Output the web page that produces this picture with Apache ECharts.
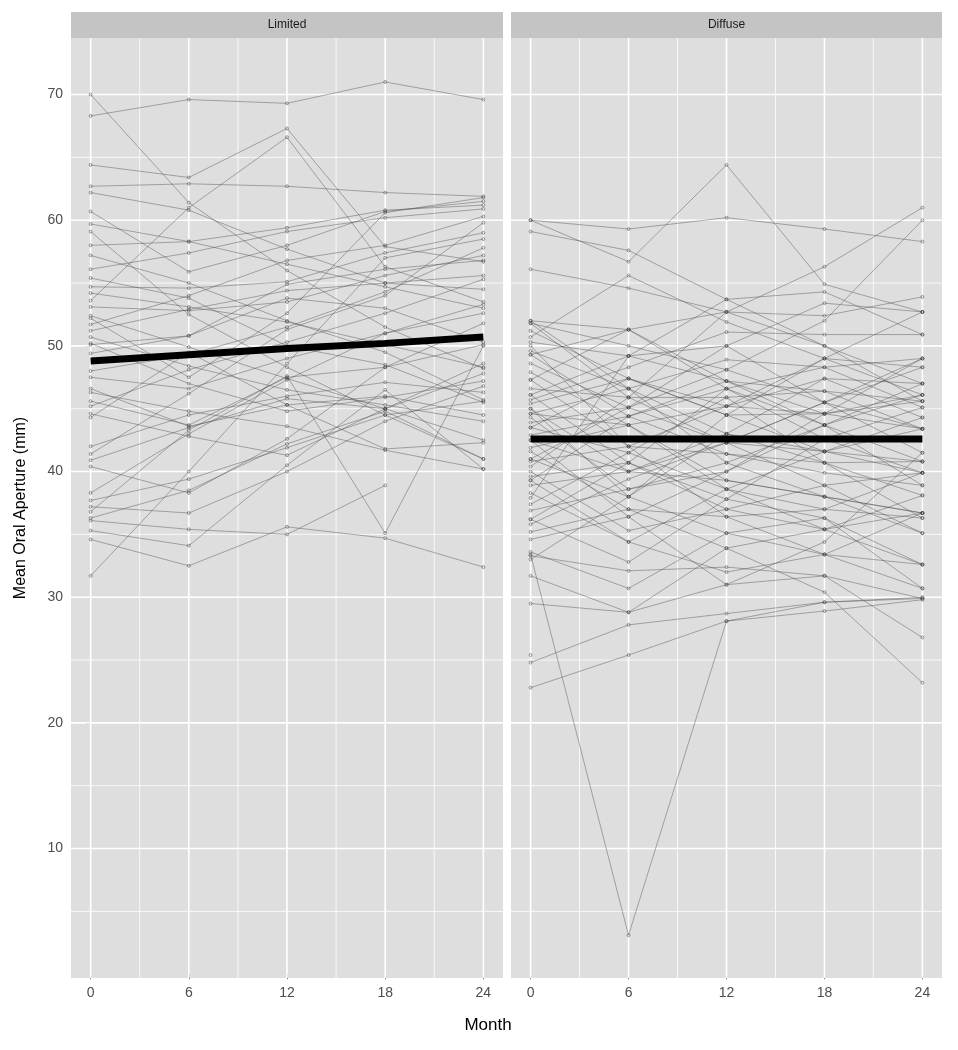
<!DOCTYPE html>
<html>
<head>
<meta charset="utf-8">
<script src="https://cdn.jsdelivr.net/npm/echarts@6/dist/echarts.min.js"></script>
<style>
html,body{margin:0;padding:0;background:#fff;}
#chart{width:958px;height:1050px;}
</style>
</head>
<body>
<div id="chart"></div>
<script>
// ---- data ----
const months = [0, 6, 12, 18, 24];
const panels = ['Limited', 'Diffuse'];
const xTicks = [0, 6, 12, 18, 24];
const xMinorGrid = [3, 9, 15, 21];
const yTicks = [10, 20, 30, 40, 50, 60, 70];
const yMinorGrid = [5, 15, 25, 35, 45, 55, 65];
const xRange = [-1.2, 25.2];
const yRange = [-0.3, 74.5];

// Mean Oral Aperture (mm) per subject at months 0,6,12,18,24
const limited = [
  [68.3, 69.6, 69.3, 71.0, 69.6],
  [70.0, 61.4, 56.0, 51.5, 48.2],
  [64.4, 63.4, 67.3, 57.9, 56.7],
  [62.7, 62.9, 62.7, 62.2, 61.9],
  [62.2, 60.8, 57.7, 55.0, 54.5],
  [60.7, 55.9, 58.0, 60.7, 61.5],
  [59.7, 58.3, 56.5, 54.7, 53.0],
  [59.1, 52.5, 48.3, 44.5, 41.0],
  [58.0, 58.3, 59.4, 60.8, 61.2],
  [56.1, 57.4, 59.1, 60.2, 60.9],
  [54.7, 54.6, 55.1, 57.4, 59.0],
  [54.2, 53.1, 51.9, 50.1, 48.3],
  [53.6, 61.0, 66.6, 56.3, 53.5],
  [53.1, 52.8, 53.5, 55.6, 57.2],
  [52.4, 49.9, 47.4, 45.0, 42.5],
  [51.7, 54.0, 56.8, 58.0, 60.3],
  [51.2, 52.9, 54.4, 55.0, 55.6],
  [50.7, 48.4, 46.5, 45.3, 44.0],
  [50.1, 50.8, 54.9, 56.1, 56.8],
  [48.0, 49.3, 51.5, 54.3, 57.8],
  [47.5, 46.6, 49.0, 51.0, 52.6],
  [46.6, 43.6, 45.3, 46.0, 44.5],
  [45.6, 43.7, 47.5, 48.3, 50.1],
  [45.2, 48.1, 50.3, 52.6, 55.3],
  [44.6, 42.8, 41.3, 45.0, 47.8],
  [44.3, 49.5, 45.3, 41.8, 42.3],
  [42.0, 44.5, 46.0, 47.1, 46.3],
  [41.4, 46.2, 51.3, 54.0, 59.8],
  [40.9, 43.5, 45.8, 45.0, 48.6],
  [40.4, 38.3, 42.6, 48.3, 51.8],
  [38.3, 43.0, 47.3, 51.0, 53.3],
  [37.7, 39.4, 41.9, 44.5, 45.6],
  [37.2, 36.7, 40.0, 44.0, 46.8],
  [36.8, 43.3, 47.6, 35.1, 50.0],
  [36.3, 38.5, 42.2, 44.8, 41.0],
  [36.1, 35.4, 35.0, 38.9, null],
  [35.3, 34.1, 40.5, 46.5, 40.2],
  [34.6, 32.5, 35.6, 34.7, 32.4],
  [31.7, 40.0, 48.6, 57.0, 58.5],
  [49.4, 50.8, 53.8, 53.0, 50.3],
  [55.4, 53.8, 50.0, 48.5, 45.5],
  [50.2, 47.0, 44.8, 45.9, 47.2],
  [57.2, 55.0, 52.0, 49.5, 45.7],
  [52.2, 47.5, 52.6, 60.6, 61.8],
  [46.3, 44.8, 43.6, 41.7, 40.2]
];

const diffuse = [
  [60.0, 59.3, 60.2, 59.3, 58.3],
  [60.0, 56.7, 64.4, 54.9, 52.7],
  [59.1, 57.6, 53.7, 50.0, 47.0],
  [56.1, 54.6, 52.7, 52.4, 53.9],
  [52.0, 51.3, 52.7, 56.3, 61.0],
  [51.8, 50.0, 48.1, 52.0, 60.0],
  [51.2, 47.4, 45.2, 44.6, 43.4],
  [50.7, 55.6, 51.9, 49.0, 46.1],
  [50.3, 49.2, 50.0, 53.4, 52.7],
  [50.0, 42.0, 36.4, 33.4, 30.7],
  [49.6, 46.6, 43.0, 40.7, 38.1],
  [49.3, 44.4, 46.6, 48.3, 49.0],
  [48.6, 45.1, 42.3, 45.5, 48.3],
  [47.9, 43.7, 39.3, 38.0, 36.7],
  [47.3, 51.3, 47.2, 43.7, 40.8],
  [46.6, 45.9, 45.9, 46.4, 45.6],
  [46.1, 40.7, 37.8, 36.3, 32.6],
  [45.7, 48.3, 51.1, 50.9, 50.9],
  [45.4, 47.4, 44.5, 41.6, 39.9],
  [45.0, 40.0, 43.0, 47.4, 47.0],
  [44.6, 46.6, 48.9, 48.3, 45.1],
  [44.3, 38.6, 40.7, 43.7, 46.1],
  [43.9, 45.1, 50.0, 45.5, 41.5],
  [43.5, 41.5, 38.6, 37.0, 36.3],
  [42.9, 44.4, 41.4, 39.9, 38.9],
  [42.5, 36.4, 40.0, 44.6, 49.0],
  [41.9, 43.7, 45.2, 47.4, 44.3],
  [41.6, 37.0, 33.9, 35.4, 38.1],
  [41.0, 38.0, 44.5, 49.0, 48.3],
  [40.8, 42.0, 41.4, 40.7, 40.8],
  [40.4, 45.9, 52.7, 50.0, 45.6],
  [40.0, 35.3, 37.0, 38.9, 39.9],
  [39.6, 40.7, 46.6, 43.7, 38.9],
  [39.3, 44.4, 47.2, 46.4, 43.4],
  [38.9, 40.0, 39.3, 38.0, 35.1],
  [38.3, 34.4, 32.0, 33.4, 36.7],
  [37.9, 49.2, 53.7, 54.3, 50.9],
  [37.4, 41.5, 45.9, 40.7, 36.3],
  [36.9, 38.6, 40.0, 43.7, 47.0],
  [36.2, 32.8, 37.8, 42.6, 45.1],
  [35.8, 39.4, 42.3, 38.9, 35.1],
  [35.2, 37.0, 36.4, 37.0, 39.9],
  [34.6, 36.4, 31.0, 34.4, 41.5],
  [33.4, 3.1, 28.1, 29.6, 30.0],
  [33.6, 30.7, 35.1, 36.3, 30.7],
  [33.3, 32.1, 32.4, 31.7, 29.9],
  [33.0, 38.0, 43.0, 41.6, 40.8],
  [31.7, 28.8, 33.9, 30.4, 23.2],
  [29.5, 28.8, 31.0, 31.7, 26.8],
  [24.8, 27.8, 28.7, 29.6, 29.9],
  [22.8, 25.4, 28.1, 28.9, 29.8],
  [25.4, null, null, null, null],
  [52.0, 46.6, 40.7, 38.0, 36.7],
  [51.8, 45.9, 42.3, 41.6, 43.4],
  [49.3, 51.3, 46.6, 42.6, 39.9],
  [47.3, 42.0, 45.2, 49.0, 52.7],
  [45.0, 38.0, 35.1, 33.4, 32.6],
  [43.5, 47.4, 44.5, 44.6, 45.6],
  [41.0, 45.1, 48.1, 45.5, 43.4],
  [39.3, 34.4, 38.6, 41.6, 44.3],
  [36.2, 40.7, 37.0, 35.4, 36.7],
  [44.6, 43.7, 38.6, 35.4, 32.6],
  [46.1, 49.2, 47.2, 44.6, 46.1],
  [42.5, 40.0, 42.3, 45.5, 49.0]
];

const meanLimited = [48.8, 49.3, 49.8, 50.2, 50.7];
const meanDiffuse = [42.6, 42.6, 42.6, 42.6, 42.6];

// ---- chart ----
const chart = echarts.init(document.getElementById('chart'), null, {renderer: 'canvas'});

const FONT = 'Liberation Sans, Arial, sans-serif';
const grids = [
  {left: 71, top: 38, width: 432, height: 940, show: true, backgroundColor: '#dedede', borderWidth: 0},
  {left: 511, top: 38, width: 431, height: 940, show: true, backgroundColor: '#dedede', borderWidth: 0}
];

const xAxes = [0, 1].map(i => ({
  type: 'value', gridIndex: i, min: xRange[0], max: xRange[1],
  axisLine: {show: false},
  splitLine: {show: false},
  axisTick: {show: true, length: 5, customValues: xTicks, lineStyle: {color: '#7f7f7f', width: 1}},
  axisLabel: {customValues: xTicks, color: '#4d4d4d', fontSize: 14, fontFamily: FONT, margin: 8}
}));

const yAxes = [0, 1].map(i => ({
  type: 'value', gridIndex: i, min: yRange[0], max: yRange[1],
  axisLine: {show: false},
  splitLine: {show: false},
  axisTick: {show: i === 0, length: 5, customValues: yTicks, lineStyle: {color: '#7f7f7f', width: 1}},
  axisLabel: {show: i === 0, customValues: yTicks, color: '#4d4d4d', fontSize: 14, fontFamily: FONT, margin: 8},
  name: i === 0 ? 'Mean Oral Aperture (mm)' : '',
  nameLocation: 'middle', nameGap: 42, nameRotate: 90,
  nameTextStyle: {color: '#000', fontSize: 16, fontFamily: FONT}
}));

const series = [];
function gridLine(i, pts, w) {
  series.push({
    type: 'line', xAxisIndex: i, yAxisIndex: i, data: pts, silent: true,
    symbol: 'none', z: 1, animation: false,
    lineStyle: {color: '#ffffff', width: w}
  });
}
[0, 1].forEach(i => {
  yMinorGrid.forEach(v => gridLine(i, [[xRange[0], v], [xRange[1], v]], 0.8));
  xMinorGrid.forEach(v => gridLine(i, [[v, yRange[0]], [v, yRange[1]]], 0.8));
  yTicks.forEach(v => gridLine(i, [[xRange[0], v], [xRange[1], v]], 1.6));
  xTicks.forEach(v => gridLine(i, [[v, yRange[0]], [v, yRange[1]]], 1.6));
});

function subjectSeries(i, rows) {
  rows.forEach(r => {
    series.push({
      type: 'line', xAxisIndex: i, yAxisIndex: i, z: 2, silent: true,
      data: months.map((m, k) => [m, r[k]]),
      connectNulls: false,
      symbol: 'circle', symbolSize: 3, showSymbol: true,
      lineStyle: {color: 'rgba(80,80,80,0.5)', width: 0.9},
      itemStyle: {color: 'rgba(0,0,0,0)', borderColor: 'rgba(60,60,60,0.6)', borderWidth: 0.8}
    });
  });
}
subjectSeries(0, limited);
subjectSeries(1, diffuse);

[[0, meanLimited], [1, meanDiffuse]].forEach(([i, m]) => {
  series.push({
    type: 'line', xAxisIndex: i, yAxisIndex: i, z: 3, silent: true,
    data: months.map((mo, k) => [mo, m[k]]),
    symbol: 'none', lineStyle: {color: '#000', width: 7, cap: 'butt'}
  });
});

const graphics = [];
grids.forEach((g, i) => {
  graphics.push({type: 'rect', shape: {x: g.left, y: 12, width: g.width, height: 26}, style: {fill: '#c4c4c4'}, silent: true});
  graphics.push({type: 'text', x: g.left + g.width / 2, y: 25, style: {text: panels[i], fill: '#1a1a1a', font: '12px ' + FONT, textAlign: 'center', textVerticalAlign: 'middle'}, silent: true});
});
graphics.push({type: 'text', x: 488, y: 1025, style: {text: 'Month', fill: '#000', font: '17px ' + FONT, textAlign: 'center', textVerticalAlign: 'middle'}, silent: true});

chart.setOption({
  animation: false,
  backgroundColor: '#ffffff',
  grid: grids,
  xAxis: xAxes,
  yAxis: yAxes,
  series: series,
  graphic: graphics
});
</script>
</body>
</html>
